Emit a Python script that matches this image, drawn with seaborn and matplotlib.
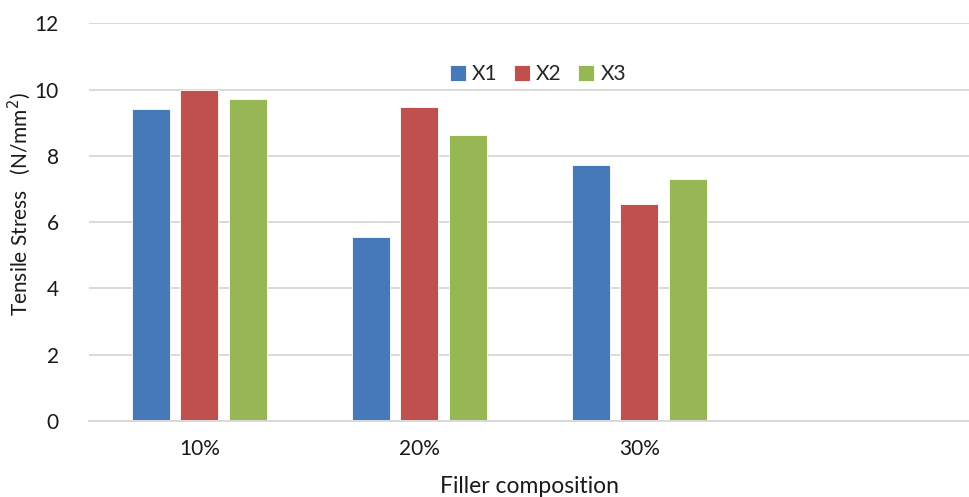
import matplotlib
matplotlib.use("Agg")
import matplotlib.pyplot as plt
import seaborn as sns
import pandas as pd

# Tensile stress (N/mm²) per filler composition and sample
compositions = ["10%", "20%", "30%"]
series = ["X1", "X2", "X3"]
x1_values = [9.43, 5.55, 7.74]
x2_values = [10.0, 9.49, 6.55]
x3_values = [9.71, 8.63, 7.30]
colors = ["#4679B9", "#C0504D", "#96B753"]
y_ticks = [0, 2, 4, 6, 8, 10, 12]

rows = []
for name, vals in zip(series, [x1_values, x2_values, x3_values]):
    for comp, v in zip(compositions, vals):
        rows.append({"Filler composition": comp, "Series": name, "Stress": v})
df = pd.DataFrame(rows)

sns.set_theme(style="white")
plt.rcParams["font.family"] = ["Lato", "DejaVu Sans"]

fig = plt.figure(figsize=(9.69, 4.97), dpi=100)
ax = fig.add_axes([0.0922, 0.153, 0.908, 0.8])

# extra empty slot on the right keeps the category spacing of a 4-slot axis
order = compositions + [" "]
sns.barplot(data=df, x="Filler composition", y="Stress", hue="Series",
            order=order, hue_order=series, palette=colors,
            width=0.664, gap=0.22, saturation=1, ax=ax,
            edgecolor="white", linewidth=0.6, legend=True)

ax.set_xlim(-0.5, 3.5)
ax.set_ylim(0, 12)
ax.set_yticks(y_ticks)
ax.set_yticklabels([str(t) for t in y_ticks], fontsize=15, color="#1a1a1a")
ax.set_xticks(range(len(compositions)))
ax.set_xticklabels(compositions, fontsize=15, color="#1a1a1a")
ax.tick_params(axis="both", length=0)
ax.tick_params(axis="x", pad=13)
ax.tick_params(axis="y", pad=22)

ax.yaxis.grid(True, color="#d9d9d9", linewidth=1.4)
ax.set_axisbelow(True)
for side in ["top", "right", "left"]:
    ax.spines[side].set_visible(False)
ax.spines["bottom"].set_color("#d9d9d9")
ax.spines["bottom"].set_linewidth(1.4)

ax.set_xlabel("Filler composition", fontsize=16.5, color="#1a1a1a", labelpad=12)
ax.set_ylabel("Tensile Stress   (N/mm$^2$)", fontsize=15, color="#1a1a1a")
ax.yaxis.set_label_coords(-0.064, 0.546)

leg = ax.legend(loc="center", bbox_to_anchor=(0.51, 0.872), ncol=3, frameon=False,
                fontsize=15, handlelength=0.75, handleheight=0.75,
                handletextpad=0.3, columnspacing=0.8)

fig.savefig("out.png", dpi=100)
